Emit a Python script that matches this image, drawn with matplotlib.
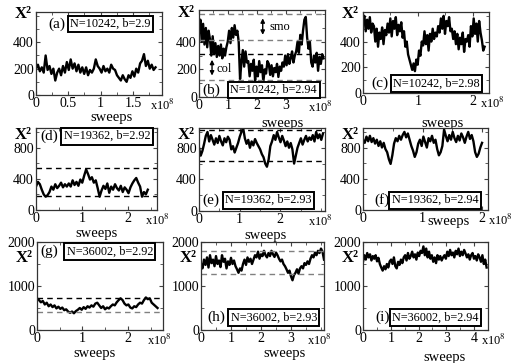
import numpy as np
import matplotlib
matplotlib.use("Agg")
import matplotlib.pyplot as plt
from matplotlib.ticker import MultipleLocator

plt.rcParams['font.family'] = ['Liberation Serif', 'DejaVu Serif']
plt.rcParams['mathtext.fontset'] = 'stix'

# chi^2 traces, sweeps in units of 1e8
chi_a = [200, 230, 180, 210, 170, 300, 190, 220, 160, 200, 110, 170, 200, 150, 220, 170,
         250, 190, 270, 200, 240, 180, 230, 170, 210, 160, 210, 150, 190, 170, 200, 270,
         220, 200, 170, 220, 180, 200, 170, 230, 200, 190, 150, 130, 110, 150, 120, 100,
         150, 130, 180, 140, 200, 170, 240, 260, 310, 220, 260, 200, 230, 190, 210]
chi_b = [470, 560, 400,
         530, 380, 500, 360, 480,
         420, 300, 440, 310, 390,
         290, 370, 300, 380, 280, 350, 300, 360,
         400, 480, 390, 500, 430, 520, 450, 480, 400,
         130, 250,
         340, 220, 330, 250,
         260, 150, 240, 190, 270, 120, 220, 150, 260, 180, 230, 110, 200, 170, 260,
         240, 160, 230, 150, 210, 180, 240, 145, 220, 190, 250,
         220, 300, 230, 310, 240, 280, 330, 250, 300,
         330, 400, 320, 450, 380,
         480, 560, 580,
         430, 350, 400, 250,
         220, 300, 250, 320, 190, 290, 240, 310, 280]
chi_c = [560, 600, 480, 570, 500, 590, 470, 540,
         520, 400, 500, 360, 470, 420, 510, 380, 490, 450,
         540, 470, 580, 440, 560, 500, 590, 450, 530, 480, 550,
         430, 480, 360, 400, 300, 260,
         220, 180, 230, 170,
         260, 220, 330, 290, 400, 370,
         480, 380, 450, 330, 460, 400, 500, 420, 470, 440,
         520, 470, 580, 500, 600, 460, 560, 520, 590, 480,
         500, 420, 480, 380, 460, 340, 430, 380, 470, 320, 420, 400, 450, 360,
         520, 440, 580, 460, 540, 400, 560, 470,
         410, 330, 360]
chi_d = [300, 360, 330,
         260, 200, 170, 190, 230,
         300, 260, 330, 280, 310, 350, 290, 330, 300,
         340, 300, 380, 320, 360, 310, 390, 350,
         440, 520, 460,
         390, 420, 350, 380, 280, 170,
         250, 310, 270, 340, 220, 300, 260, 330, 280, 250, 310, 230, 290, 260, 215,
         290, 340, 380, 410, 350, 300,
         170, 230, 200, 260]
chi_e = [800, 700, 760,
         850, 950, 1000, 880, 960, 900,
         840, 920, 860, 950, 880, 830, 920, 870, 940, 900,
         780, 820, 740, 800, 860,
         940, 1000, 1050, 920,
         850, 900, 800, 880, 830, 910, 860, 820,
         780, 720, 680, 600, 560, 650,
         820, 880, 960, 900, 1000, 930, 870, 950, 890,
         820, 880, 800, 860, 780,
         600, 700,
         800, 860, 920, 840, 900, 950, 880, 930,
         900, 960, 880, 1000, 920, 970, 900, 980]
chi_f = [900, 860, 940, 880, 950, 870, 920,
         850, 900, 820, 880, 800, 860, 780, 740,
         650, 590, 700,
         850, 920, 880, 950, 900,
         960, 1000, 930, 980, 900,
         820, 760, 680, 740,
         850, 900, 820, 940, 870, 800, 920, 880, 950, 860, 900,
         780, 700, 740,
         820, 1030, 950,
         880, 960, 900, 1000, 920, 870, 950, 890, 980, 930, 860, 940, 1000, 910, 960, 880,
         740, 680, 720,
         800, 860]
chi_g = [720, 680, 630, 660,
         580, 620, 540, 580, 520, 560, 490, 530,
         480, 510, 450, 470, 420, 390, 420, 380, 430, 460,
         500, 460, 520, 480, 540, 510, 560, 530, 600,
         620, 560, 500, 540, 470, 510, 490,
         540, 580, 560, 630, 680, 720, 680,
         600, 560, 580, 510, 490, 540, 520,
         580, 620, 600, 680, 740, 700, 720,
         620, 580, 540, 500]
chi_h = [1500, 1400, 1600, 1480, 1650, 1420, 1700, 1520, 1600, 1450, 1680, 1500,
         1580, 1430, 1700, 1550, 1620, 1400, 1560, 1480, 1640, 1500, 1580, 1450,
         1380, 1300, 1400, 1350,
         1500, 1600, 1480, 1650, 1550, 1620, 1500,
         1600, 1700, 1650, 1780, 1620, 1720, 1680, 1800, 1700, 1650, 1750, 1680,
         1800, 1720, 1660, 1760, 1700,
         1620, 1560, 1600, 1500, 1450,
         1380, 1300, 1350, 1220,
         1130, 1250,
         1300, 1380, 1280, 1400,
         1450, 1400, 1520, 1480, 1560, 1500,
         1620, 1700, 1650, 1760, 1700, 1800, 1750, 1850,
         1780, 1600]
chi_i = [1550, 1700, 1600, 1750, 1650, 1720, 1580, 1680, 1620, 1700, 1560, 1640,
         1500, 1420, 1350, 1450, 1380, 1500, 1420, 1560,
         1600, 1500, 1650, 1450, 1400, 1550, 1480, 1600, 1520, 1650,
         1700, 1580, 1750, 1620, 1680, 1780, 1650, 1720, 1600, 1760, 1680, 1800,
         1750, 1900, 1700, 1850, 1650, 1780, 1620, 1700,
         1550, 1650, 1520, 1700, 1600, 1680, 1580, 1650,
         1700, 1620, 1780, 1680, 1820, 1700, 1760, 1650, 1800, 1720, 1850, 1680,
         1780, 1700, 1820, 1740,
         1650, 1720, 1600, 1700, 1750, 1620, 1680, 1580, 1720, 1650, 1550, 1700,
         1500, 1600, 1420]

traces = [chi_a, chi_b, chi_c, chi_d, chi_e, chi_f, chi_g, chi_h, chi_i]
sweep_end = [1.85, 4.3, 2.22, 2.43, 3.05, 2.0, 2.65, 4.1, 4.45]
letters = ['(a)', '(b)', '(c)', '(d)', '(e)', '(f)', '(g)', '(h)', '(i)']
box_labels = ['N=10242, b=2.9', 'N=10242, b=2.94', 'N=10242, b=2.98',
              'N=19362, b=2.92', 'N=19362, b=2.93', 'N=19362, b=2.94',
              'N=36002, b=2.92', 'N=36002, b=2.93', 'N=36002, b=2.94']
xticks = [[0, 0.5, 1, 1.5], [0, 1, 2, 3], [0, 1, 2], [0, 1, 2], [0, 1, 2],
          [0, 1, 2], [0, 1, 2], [0, 1, 2, 3], [0, 1, 2, 3, 4]]
tick_names = [['0', '0.5', '1', '1.5'], ['0', '1', '2', '3'], ['0', '1', '2'],
              ['0', '1', '2'], ['0', '1', '2'], ['0', '1', '2'], ['0', '1', '2'],
              ['0', '1', '2', '3'], ['0', '1', '2', '3', '4']]
# dashed reference levels (value, colour)
levels = [[], [(600, 'gray'), (410, 'gray'), (310, 'black'), (120, 'gray')], [],
          [(540, 'black'), (185, 'black')], [(1030, 'black'), (630, 'black')], [],
          [(720, 'black'), (400, 'gray')], [(1790, 'gray'), (1280, 'gray')], []]

W, H = 518, 363
# left, top, right, bottom in pixels
rects = [(36, 12, 162, 95), (199, 10, 325, 97), (363, 12, 489, 93),
         (36, 128, 157, 210), (199, 128, 325, 211), (363, 128, 488, 210),
         (37, 242, 163, 330), (201, 242, 324, 330), (363, 242, 488, 330)]
xmax = [1.95, 4.35, 2.3, 2.63, 3.1, 2.1, 2.77, 4.1, 4.5]
ylims = [630, 630, 630, 1050, 1050, 1050, 2000, 2000, 2000]
yticks = [[0, 200, 400]] * 3 + [[0, 400, 800]] * 3 + [[0, 1000, 2000]] * 3
yminor = [100] * 3 + [200] * 3 + [500] * 3
x2_y = [0.97] * 3 + [0.92] * 3 + [0.82] * 3
# panel letter x, box x, common y (axes fraction)
label_pos = [(0.1, 0.27, 0.855), (0.03, 0.25, 0.08), (0.07, 0.24, 0.12),
             (0.035, 0.23, 0.9), (0.03, 0.21, 0.13), (0.09, 0.23, 0.12),
             (0.03, 0.235, 0.89), (0.05, 0.24, 0.14), (0.1, 0.235, 0.14)]
# sweeps label: x fraction, pixels below bottom spine
sweeps_pos = [(0.6, 17), (0.66, 20), (0.63, 24), (0.5, 18), (0.53, 19),
              (0.68, 6), (0.46, 18), (0.68, 18), (0.65, 21)]
x8_pos = [1.0, 0.96, 1.03, 1.0, 0.96, 1.1, 0.97, 0.96, 1.04]

fig = plt.figure(figsize=(W / 100, H / 100), dpi=100)
for k in range(9):
    l, t, r, b = rects[k]
    hpx = b - t
    ax = fig.add_axes([l / W, 1 - b / H, (r - l) / W, hpx / H])
    y = np.array(traces[k])
    x = np.linspace(0, sweep_end[k], len(y))
    ax.plot(x, y, color='black', lw=1.7)
    for val, col in levels[k]:
        ax.axhline(val, color=col, lw=1.0, ls=(0, (4, 3)))
    ax.set_xlim(0, xmax[k])
    ax.set_ylim(0, ylims[k])
    ax.set_xticks(xticks[k])
    ax.set_xticklabels(tick_names[k])
    ax.set_yticks(yticks[k])
    ax.yaxis.set_minor_locator(MultipleLocator(yminor[k]))
    ax.xaxis.set_minor_locator(MultipleLocator(0.5 if xticks[k][1] == 1 else 0.25))
    ax.tick_params(which='both', direction='in', top=True, right=True,
                   labelsize=10, pad=1.5, color='#444444')
    ax.tick_params(which='major', length=3)
    ax.tick_params(which='minor', length=2)
    for s in ax.spines.values():
        s.set_linewidth(0.9)
        s.set_color('#333333')
    ax.text(-0.035, x2_y[k], 'X²', transform=ax.transAxes,
            ha='right', va='center', fontsize=12, fontweight='bold')
    ax.text(x8_pos[k], -0.035, 'x10$^8$', transform=ax.transAxes, ha='center',
            va='top', fontsize=9)
    sx, sdy = sweeps_pos[k]
    ax.text(sx, -(sdy + 6) / hpx, 'sweeps', transform=ax.transAxes,
            ha='center', va='center', fontsize=10.5)
    lx, bx, ly = label_pos[k]
    ax.text(lx, ly, letters[k], transform=ax.transAxes, ha='left', va='center',
            fontsize=11)
    ax.text(bx, ly, box_labels[k], transform=ax.transAxes, ha='left', va='center',
            fontsize=8.8,
            bbox=dict(boxstyle='square,pad=0.2', fc='white', ec='black', lw=1.4))
    if k == 1:
        ax.annotate('', xy=(2.2, 590), xytext=(2.2, 430),
                    arrowprops=dict(arrowstyle='<|-|>', lw=1, color='black',
                                    mutation_scale=6))
        ax.text(2.45, 510, 'smo', fontsize=9, va='center')
        ax.annotate('', xy=(0.45, 290), xytext=(0.45, 135),
                    arrowprops=dict(arrowstyle='<|-|>', lw=1, color='black',
                                    mutation_scale=6))
        ax.text(0.6, 205, 'col', fontsize=9, va='center')

fig.savefig('out.png', dpi=100)
